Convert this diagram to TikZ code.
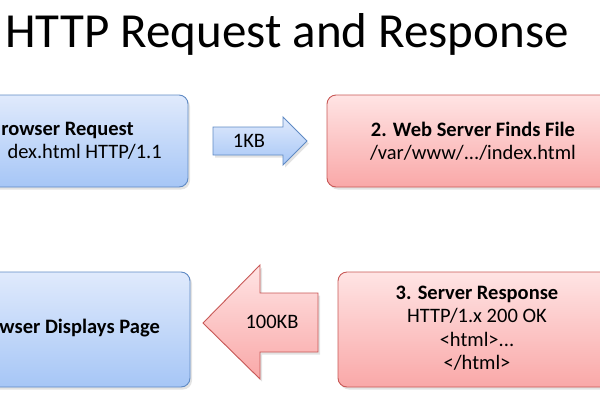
\documentclass[tikz,border=0pt]{standalone}
\usepackage{fontspec}
\setmainfont{Carlito}
\usetikzlibrary{shadows}
\definecolor{bleuhaut}{RGB}{224,234,252}
\definecolor{bleubas}{RGB}{166,198,246}
\definecolor{bordbleu}{RGB}{95,138,196}
\definecolor{rougehaut}{RGB}{255,228,228}
\definecolor{rougebas}{RGB}{249,168,168}
\definecolor{bordrouge}{RGB}{200,88,86}
\begin{document}
\begin{tikzpicture}[
    x=1pt, y=-1pt,
    boite/.style={rounded corners=9pt, line width=0.9pt, inner sep=0pt,
        drop shadow={opacity=0.22, shadow xshift=2pt, shadow yshift=-2.5pt}},
    bleu/.style={boite, draw=bordbleu, top color=bleuhaut, bottom color=bleubas},
    rouge/.style={boite, draw=bordrouge, top color=rougehaut, bottom color=rougebas},
    texte/.style={inner sep=0pt, align=center},
    font=\fontsize{20.5}{23.5}\selectfont
]

% Cadre de l'image (coupée à gauche et à droite)
\useasboundingbox (0,0) rectangle (600,400);
\clip (0,0) rectangle (600,400);

% Titre
\node[anchor=base east, inner sep=0pt, font=\fontsize{49}{58}\selectfont] (titre) at (569,47) {HTTP Request and Response};

% Boites
\node[bleu, minimum width=210pt, minimum height=92pt] (requete) at (83,141) {};
\node[rouge, minimum width=293pt, minimum height=92pt] (serveur) at (473.5,141) {};
\node[bleu, minimum width=212pt, minimum height=115pt] (affiche) at (84,329.5) {};
\node[rouge, minimum width=282pt, minimum height=115pt] (reponse) at (479,329.5) {};

% Textes des boites
\node[texte, anchor=base east] (req1) at (134,135) {\bfseries rowser Request};
\node[texte, anchor=base east] (req2) at (162,158) {dex.html HTTP/1.1};
\node[texte] (fichier) at (473,141) {\bfseries 2. Web Server Finds File\\/var/www/.../index.html};
\node[texte, anchor=base east] (page) at (160,333) {\bfseries wser Displays Page};
\node[texte] (html) at (477,328) {\bfseries 3. Server Response\\HTTP/1.x 200 OK\\<html>...\\</html>};

% Grosses flèches
\path[bleu, rounded corners=0pt] (213,127) -- (283,127) -- (283,117) -- (307,141)
    -- (283,165) -- (283,155) -- (213,155) -- cycle;
\node[texte] (envoi) at (249,141) {1KB};
\path[rouge, rounded corners=0pt] (318,293) -- (260,293) -- (260,265) -- (203,323)
    -- (260,379) -- (260,352) -- (318,352) -- cycle;
\node[texte] (retour) at (272,322) {100KB};

\end{tikzpicture}
\end{document}
